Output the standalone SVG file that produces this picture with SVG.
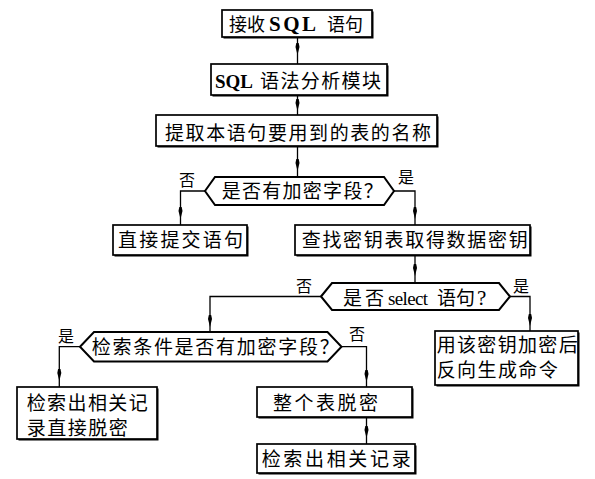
<svg xmlns="http://www.w3.org/2000/svg" xmlns:xlink="http://www.w3.org/1999/xlink" width="595" height="479" viewBox="0 0 595 479">
<style>
.bg{fill:#fff}
.sh{fill:#000}
.box{fill:#fff;stroke:#000;stroke-width:1.7}
.hex{fill:#fff;stroke:#000;stroke-width:2}
.t{font-family:"Noto Sans CJK SC",sans-serif;font-size:19px;fill:#000}
.e{font-family:"Liberation Serif",serif;font-size:19px;fill:#000}
.b{font-weight:bold}
.lb{font-family:"Noto Sans CJK SC",sans-serif;font-size:16px;fill:#000}
.ln{fill:none;stroke:#000;stroke-width:1.3}
.ah{fill:#000}
</style>
<defs>
<path id="ah" d="M0,0 L-2,-8 L-1.2,-12 L1.2,-12 L2,-8 Z"/>
</defs>
<rect class="bg" x="0" y="0" width="595" height="479"/>

<g id="connectors">
<path class="ln" d="M297.5,37 V64"/>
<path class="ln" d="M297.5,96 V115"/>
<path class="ln" d="M297.5,147 V177"/>
<path class="ln" d="M205,191 H180.5 V225"/>
<path class="ln" d="M394,191 H415 V225"/>
<path class="ln" d="M415,255 V283"/>
<path class="ln" d="M321,296.5 H210 V332"/>
<path class="ln" d="M510,296.5 H530 V331"/>
<path class="ln" d="M80,346.7 H59.3 V387"/>
<path class="ln" d="M341.5,346.7 H366.5 V387"/>
<path class="ln" d="M366.5,417 V444"/>
<use class="ah" xlink:href="#ah" x="297.5" y="55"/>
<use class="ah" xlink:href="#ah" x="297.5" y="111"/>
<use class="ah" xlink:href="#ah" x="297.5" y="171"/>
<use class="ah" xlink:href="#ah" x="180.5" y="219"/>
<use class="ah" xlink:href="#ah" x="415" y="219"/>
<use class="ah" xlink:href="#ah" x="415" y="276"/>
<use class="ah" xlink:href="#ah" x="210" y="327"/>
<use class="ah" xlink:href="#ah" x="530" y="326"/>
<use class="ah" xlink:href="#ah" x="59.3" y="381"/>
<use class="ah" xlink:href="#ah" x="366.5" y="382"/>
<use class="ah" xlink:href="#ah" x="366.5" y="438"/>
<text class="lb" x="179" y="186">否</text>
<text class="lb" x="398" y="183">是</text>
<text class="lb" x="296" y="292">否</text>
<text class="lb" x="513" y="292">是</text>
<text class="lb" x="58" y="342">是</text>
<text class="lb" x="349" y="340">否</text>
</g>

<g id="n1">
<rect class="sh" x="223.5" y="11.5" width="150" height="27"/>
<rect class="box" x="222" y="10" width="150" height="27"/>
<text class="t" x="229" y="31" style="font-size:18px">接收</text>
<text class="e b" x="269" y="31" style="font-size:21px" textLength="47" lengthAdjust="spacing">SQL</text>
<text class="t" x="327" y="31" style="font-size:18px">语句</text>
</g>
<g id="n2">
<rect class="sh" x="212.5" y="65.5" width="176" height="31"/>
<rect class="box" x="211" y="64" width="176" height="31"/>
<text class="e b" x="215" y="88">SQL</text>
<text class="t" x="260" y="88" textLength="121" lengthAdjust="spacing">语法分析模块</text>
</g>
<g id="n3">
<rect class="sh" x="157.5" y="116.5" width="281" height="31"/>
<rect class="box" x="156" y="115" width="281" height="31"/>
<text class="t" x="165" y="140" textLength="266" lengthAdjust="spacing">提取本语句要用到的表的名称</text>
</g>
<g id="d1">
<polygon class="hex" points="205,191 215,177 384,177 394,191 384,205 215,205"/>
<text class="t" x="221.7" y="198" textLength="161" lengthAdjust="spacing">是否有加密字段？</text>
</g>
<g id="n4">
<rect class="sh" x="114.5" y="226.5" width="134" height="30"/>
<rect class="box" x="113" y="225" width="134" height="30"/>
<text class="t" x="118" y="247" textLength="125" lengthAdjust="spacing">直接提交语句</text>
</g>
<g id="n5">
<rect class="sh" x="296.5" y="226.5" width="235" height="30"/>
<rect class="box" x="295" y="225" width="235" height="30"/>
<text class="t" x="301.7" y="247" textLength="226" lengthAdjust="spacing">查找密钥表取得数据密钥</text>
</g>
<g id="d2">
<polygon class="hex" points="321,296.5 332,283 499,283 510,296.5 499,310 332,310"/>
<text class="t" x="343" y="305" textLength="41" lengthAdjust="spacing">是否</text>
<text class="e" x="388" y="305" textLength="40" lengthAdjust="spacing">select</text>
<text class="t" x="437" y="305">语句</text>
<text class="e" x="477" y="305" style="font-size:21px">?</text>
</g>
<g id="n6">
<rect class="sh" x="436.5" y="332.5" width="143" height="54"/>
<rect class="box" x="435" y="331" width="143" height="54"/>
<text class="t" x="436.7" y="352" textLength="141" lengthAdjust="spacing">用该密钥加密后</text>
<text class="t" x="436.7" y="377" textLength="121" lengthAdjust="spacing">反向生成命令</text>
</g>
<g id="d3">
<polygon class="hex" points="80,346.7 94,332 327.5,332 341.5,346.7 327.5,361.5 94,361.5"/>
<text class="t" x="91.7" y="354" textLength="247" lengthAdjust="spacing">检索条件是否有加密字段？</text>
</g>
<g id="n7">
<rect class="sh" x="18.5" y="388.5" width="140" height="52"/>
<rect class="box" x="17" y="387" width="140" height="52"/>
<text class="t" x="26.7" y="410" textLength="121" lengthAdjust="spacing">检索出相关记</text>
<text class="t" x="26.7" y="435" textLength="101" lengthAdjust="spacing">录直接脱密</text>
</g>
<g id="n8">
<rect class="sh" x="258.5" y="388.5" width="155" height="30"/>
<rect class="box" x="257" y="387" width="155" height="30"/>
<text class="t" x="273" y="410" textLength="105" lengthAdjust="spacing">整个表脱密</text>
</g>
<g id="n9">
<rect class="sh" x="258.5" y="445.5" width="158" height="29"/>
<rect class="box" x="257" y="444" width="158" height="29"/>
<text class="t" x="261.7" y="466" textLength="149" lengthAdjust="spacing">检索出相关记录</text>
</g>
</svg>
